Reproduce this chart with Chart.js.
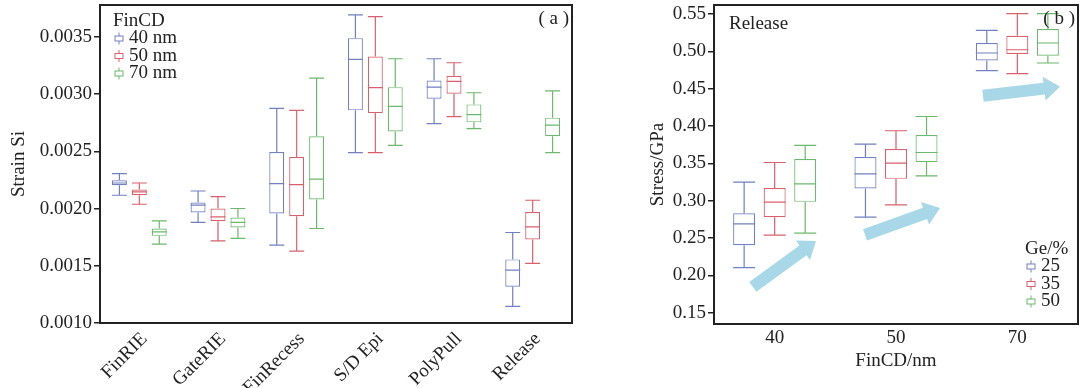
<!DOCTYPE html>
<html>
<head>
<meta charset="utf-8">
<script src="https://cdn.jsdelivr.net/npm/chart.js@4"></script>
<style>
  body { margin: 0; background: #fff; width: 1080px; height: 388px; position: relative; overflow: hidden; }
  canvas { position: absolute; top: 0; }
</style>
</head>
<body>
<canvas id="left" width="590" height="388" style="left:0"></canvas>
<canvas id="right" width="450" height="388" style="left:630px"></canvas>
<script>
// ---- panel (a) ----
const steps = ['FinRIE', 'GateRIE', 'FinRecess', 'S/D Epi', 'PolyPull', 'Release'];
// each entry: [min, q1, median, q3, max]
const cd40 = [
  [0.002117, 0.002204, 0.002224, 0.002248, 0.002306],
  [0.001879, 0.001966, 0.002030, 0.002053, 0.002154],
  [0.001681, 0.001957, 0.002219, 0.002495, 0.002876],
  [0.002490, 0.002859, 0.003304, 0.003490, 0.003694],
  [0.002743, 0.002961, 0.003062, 0.003120, 0.003310],
  [0.001146, 0.001317, 0.001462, 0.001556, 0.001791]
];
const cd50 = [
  [0.002038, 0.002117, 0.002146, 0.002167, 0.002224],
  [0.001718, 0.001890, 0.001928, 0.002001, 0.002105],
  [0.001628, 0.001934, 0.002210, 0.002451, 0.002859],
  [0.002490, 0.002835, 0.003057, 0.003330, 0.003679],
  [0.002804, 0.003004, 0.003112, 0.003161, 0.003275],
  [0.001521, 0.001730, 0.001840, 0.001971, 0.002073]
];
const cd70 = [
  [0.001689, 0.001762, 0.001797, 0.001826, 0.001893],
  [0.001739, 0.001835, 0.001879, 0.001922, 0.002001],
  [0.001826, 0.002079, 0.002257, 0.002632, 0.003140],
  [0.002553, 0.002675, 0.002894, 0.003062, 0.003310],
  [0.002699, 0.002754, 0.002821, 0.002911, 0.003013],
  [0.002490, 0.002632, 0.002730, 0.002795, 0.003030]
];
const strainTicks = [0.0010, 0.0015, 0.0020, 0.0025, 0.0030, 0.0035];

// ---- panel (b) ----
const finCD = ['40', '50', '70'];
const ge25 = [
  [0.2103, 0.2403, 0.2689, 0.2832, 0.3248],
  [0.2779, 0.3162, 0.3359, 0.3583, 0.3757],
  [0.4740, 0.4878, 0.4977, 0.5111, 0.5280]
];
const ge35 = [
  [0.2538, 0.2779, 0.2980, 0.3168, 0.3511],
  [0.2944, 0.3292, 0.3503, 0.3690, 0.3936],
  [0.4700, 0.4964, 0.5021, 0.5209, 0.5504]
];
const ge50 = [
  [0.2564, 0.2984, 0.3225, 0.3556, 0.3739],
  [0.3333, 0.3516, 0.3645, 0.3878, 0.4127],
  [0.4843, 0.4941, 0.5111, 0.5299, 0.5504]
];
const stressTicks = [0.15, 0.20, 0.25, 0.30, 0.35, 0.40, 0.45, 0.50, 0.55];

// trend arrows for (b): [x index, value] tail -> tip
const trendArrows = [
  [[-0.18, 0.1845], [0.34, 0.2461]],
  [[0.745, 0.2542], [1.363, 0.2903]],
  [[1.717, 0.4405], [2.352, 0.4525]]
];

const BLUE = '#7080c0', RED = '#d8606c', GREEN = '#6cb86c';
const INK = '#222';
Chart.defaults.font.family = "'Liberation Serif', 'Times New Roman', serif";
Chart.defaults.font.size = 19;
Chart.defaults.color = INK;

function boxSet(label, stats, color) {
  return {
    label: label,
    stats: stats,
    data: stats.map(s => [s[1], s[3]]),
    backgroundColor: '#fff',
    borderColor: color,
    borderWidth: 1.2,
    borderSkipped: false
  };
}

// whiskers + median on top of the floating bars
const boxPlugin = {
  id: 'boxes',
  afterDatasetsDraw(chart) {
    const ctx = chart.ctx, y = chart.scales.y;
    chart.data.datasets.forEach((ds, i) => {
      chart.getDatasetMeta(i).data.forEach((bar, j) => {
        const [mn, q1, md, q3, mx] = ds.stats[j];
        const x = bar.x, h = bar.width / 2;
        ctx.save();
        ctx.strokeStyle = ds.borderColor;
        ctx.lineWidth = 1.2;
        ctx.beginPath();
        ctx.moveTo(x - h, y.getPixelForValue(md)); ctx.lineTo(x + h, y.getPixelForValue(md));
        ctx.moveTo(x, y.getPixelForValue(q3)); ctx.lineTo(x, y.getPixelForValue(mx));
        ctx.moveTo(x, y.getPixelForValue(q1)); ctx.lineTo(x, y.getPixelForValue(mn));
        ctx.moveTo(x - h, y.getPixelForValue(mx)); ctx.lineTo(x + h, y.getPixelForValue(mx));
        ctx.moveTo(x - h, y.getPixelForValue(mn)); ctx.lineTo(x + h, y.getPixelForValue(mn));
        ctx.stroke();
        ctx.restore();
      });
    });
  }
};

function legendIcon(ctx, x, y, color) {
  ctx.strokeStyle = color;
  ctx.lineWidth = 1;
  ctx.beginPath();
  ctx.moveTo(x, y - 6); ctx.lineTo(x, y - 2.5);
  ctx.moveTo(x, y + 2.5); ctx.lineTo(x, y + 6);
  ctx.stroke();
  ctx.strokeRect(x - 4, y - 2.5, 8, 5);
}

function drawLegend(chart, x, y, title, step) {
  const ctx = chart.ctx;
  ctx.save();
  ctx.font = "19px 'Liberation Serif'";
  ctx.fillStyle = INK;
  ctx.textBaseline = 'middle';
  ctx.fillText(title, x, y);
  chart.data.datasets.forEach((ds, i) => {
    const yy = y + step * (i + 1);
    legendIcon(ctx, x + 6, yy, ds.borderColor);
    ctx.fillStyle = INK;
    ctx.fillText(ds.label, x + 16, yy);
  });
  ctx.restore();
}

function frame(chart) {
  const a = chart.chartArea, ctx = chart.ctx;
  ctx.save();
  ctx.strokeStyle = INK;
  ctx.lineWidth = 2;
  ctx.strokeRect(a.left, a.top, a.right - a.left, a.bottom - a.top);
  ctx.restore();
}

function yScale(min, max, ticks, digits, width, titleText, titlePad) {
  return {
    min: min, max: max,
    afterBuildTicks: s => { s.ticks = ticks.map(v => ({ value: v })); },
    afterFit: s => { s.width = width; s.paddingTop = 0; s.paddingBottom = 0; },
    ticks: { callback: v => v.toFixed(digits), padding: 2 },
    grid: { drawOnChartArea: false, tickLength: 6, color: INK, lineWidth: 1.5 },
    border: { display: false },
    title: { display: true, text: titleText, padding: { top: titlePad } }
  };
}

new Chart(document.getElementById('left'), {
  type: 'bar',
  data: {
    labels: steps,
    datasets: [
      boxSet('40 nm', cd40, BLUE),
      boxSet('50 nm', cd50, RED),
      boxSet('70 nm', cd70, GREEN)
    ]
  },
  options: {
    responsive: false,
    animation: false,
    layout: { padding: { top: 5, right: 18 } },
    datasets: { bar: { categoryPercentage: 0.76, barPercentage: 0.75 } },
    scales: {
      x: {
        grid: { display: false, drawTicks: false },
        border: { display: false },
        ticks: { minRotation: 45, maxRotation: 45, padding: 5, labelOffset: 5 },
        afterFit: s => { s.height = 65; s.paddingLeft = 0; s.paddingRight = 0; }
      },
      y: yScale(0.0010, 0.00378, strainTicks, 4, 100, 'Strain Si', 8)
    },
    plugins: { legend: { display: false }, tooltip: { enabled: false } }
  },
  plugins: [boxPlugin, {
    id: 'decorA',
    afterDraw(chart) {
      frame(chart);
      const a = chart.chartArea, ctx = chart.ctx;
      drawLegend(chart, a.left + 13, a.top + 16, 'FinCD', 17.5);
      ctx.save();
      ctx.font = "19px 'Liberation Serif'";
      ctx.fillStyle = INK;
      ctx.textAlign = 'right';
      ctx.textBaseline = 'middle';
      ctx.fillText('( a )', a.right - 3, a.top + 14);
      ctx.restore();
    }
  }]
});

function drawArrow(ctx, x0, y0, x1, y1) {
  const ang = Math.atan2(y1 - y0, x1 - x0);
  const len = Math.hypot(x1 - x0, y1 - y0);
  const shaft = 6, head = 12, headLen = 16;
  ctx.save();
  ctx.translate(x0, y0);
  ctx.rotate(ang);
  ctx.fillStyle = '#a8d8e8';
  ctx.beginPath();
  ctx.moveTo(0, -shaft);
  ctx.lineTo(len - headLen, -shaft);
  ctx.lineTo(len - headLen, -head);
  ctx.lineTo(len, 0);
  ctx.lineTo(len - headLen, head);
  ctx.lineTo(len - headLen, shaft);
  ctx.lineTo(0, shaft);
  ctx.closePath();
  ctx.fill();
  ctx.restore();
}

new Chart(document.getElementById('right'), {
  type: 'bar',
  data: {
    labels: finCD,
    datasets: [
      boxSet('25', ge25, BLUE),
      boxSet('35', ge35, RED),
      boxSet('50', ge50, GREEN)
    ]
  },
  options: {
    responsive: false,
    animation: false,
    layout: { padding: { top: 5, right: 2 } },
    datasets: { bar: { categoryPercentage: 0.755, barPercentage: 0.72 } },
    scales: {
      x: {
        grid: { display: false, drawTicks: false },
        border: { display: false },
        ticks: { maxRotation: 0, padding: 3 },
        title: { display: true, text: 'FinCD/nm', padding: { top: 0, bottom: 16 } },
        afterFit: s => { s.height = 64; s.paddingLeft = 0; s.paddingRight = 0; }
      },
      y: yScale(0.1348, 0.562, stressTicks, 2, 84, 'Stress/GPa', 17)
    },
    plugins: { legend: { display: false }, tooltip: { enabled: false } }
  },
  plugins: [{
    id: 'arrows',
    beforeDatasetsDraw(chart) {
      const x = chart.scales.x, y = chart.scales.y;
      trendArrows.forEach(([t, h]) => {
        drawArrow(chart.ctx, x.getPixelForValue(t[0]), y.getPixelForValue(t[1]),
          x.getPixelForValue(h[0]), y.getPixelForValue(h[1]));
      });
    }
  }, boxPlugin, {
    id: 'decorB',
    afterDraw(chart) {
      frame(chart);
      const a = chart.chartArea, ctx = chart.ctx;
      drawLegend(chart, a.left + 311, a.top + 244, 'Ge/%', 17.5);
      ctx.save();
      ctx.font = "19px 'Liberation Serif'";
      ctx.fillStyle = INK;
      ctx.textBaseline = 'middle';
      ctx.fillText('Release', a.left + 15, a.top + 19);
      ctx.textAlign = 'right';
      ctx.fillText('( b )', a.right - 3, a.top + 14);
      ctx.restore();
    }
  }]
});
</script>
</body>
</html>
